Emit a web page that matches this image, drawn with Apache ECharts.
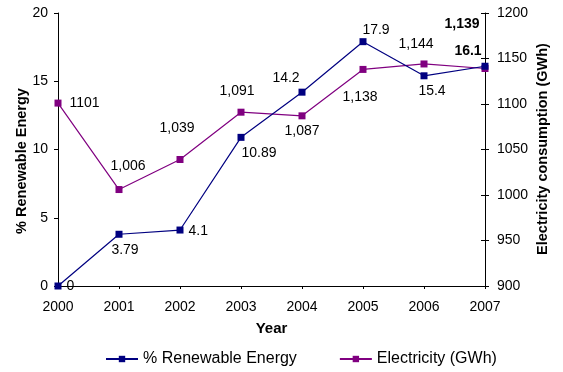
<!DOCTYPE html>
<html>
<head>
<meta charset="utf-8">
<script src="https://cdn.jsdelivr.net/npm/echarts@6/dist/echarts.min.js"></script>
<style>
  html, body { margin: 0; padding: 0; background: #fff; }
  #chart { width: 563px; height: 372px; }
</style>
</head>
<body>
<div id="chart"></div>
<script>
// Year categories and the two series
var years = ['2000', '2001', '2002', '2003', '2004', '2005', '2006', '2007'];
var renewable = [0, 3.79, 4.1, 10.89, 14.2, 17.9, 15.4, 16.1];
var electricity = [1101, 1006, 1039, 1091, 1087, 1138, 1144, 1139];

// Label placement per point: [position, dx, dy, bold]
var renewLabelPos = [
  ['right', 0, 0, false], ['bottom', 6, 0, false], ['right', 0, 1, false], ['bottom', 18, 0, false],
  ['top', -16, 1, false], ['top', 13, 4, false], ['bottom', 8, 0, false], ['top', -17, 0, true]
];
var elecLabelPos = [
  ['right', 3, 0, false], ['top', 9, -8, false], ['top', -3, -16, false], ['top', -4, -6, false],
  ['bottom', 0, 0, false], ['bottom', -3, 12, false], ['top', -8, -4, false], ['top', -23, -29, true]
];

function fmtElec(v, i) {
  // first value is printed without thousands separator
  return i === 0 ? String(v) : v.toLocaleString('en-US');
}

function buildData(values, pos, fmt) {
  return values.map(function (v, i) {
    var p = pos[i];
    return {
      value: v,
      label: {
        position: p[0],
        offset: [p[1], p[2]],
        fontWeight: p[3] ? 'bold' : 'normal',
        formatter: fmt ? fmt(v, i) : String(v)
      }
    };
  });
}

var FONT = 'Liberation Sans, Arial, sans-serif';
var chart = echarts.init(document.getElementById('chart'));

chart.setOption({
  animation: false,
  backgroundColor: '#fff',
  textStyle: { fontFamily: FONT },
  grid: { left: 58, right: 78, top: 13, bottom: 86, containLabel: false },
  legend: {
    top: 346,
    left: 100,
    itemGap: 42,
    itemWidth: 32,
    itemHeight: 8,
    textStyle: { fontSize: 16, color: '#000', fontFamily: FONT },
    data: ['% Renewable Energy', 'Electricity (GWh)']
  },
  graphic: [
    {
      type: 'text',
      x: 22, y: 161,
      rotation: Math.PI / 2,
      style: {
        text: '% Renewable Energy',
        fontFamily: FONT, fontSize: 14.5, fontWeight: 'bold', fill: '#000',
        align: 'center', verticalAlign: 'middle'
      }
    },
    {
      type: 'text',
      x: 543, y: 149,
      rotation: Math.PI / 2,
      style: {
        text: 'Electricity consumption (GWh)',
        fontFamily: FONT, fontSize: 14.5, fontWeight: 'bold', fill: '#000',
        align: 'center', verticalAlign: 'middle'
      }
    }
  ],
  xAxis: {
    type: 'category',
    data: years,
    boundaryGap: false,
    name: 'Year',
    nameLocation: 'middle',
    nameGap: 35,
    nameTextStyle: { fontWeight: 'bold', fontSize: 15, color: '#000' },
    axisLine: { lineStyle: { color: '#000', width: 1 } },
    axisTick: { show: true, alignWithLabel: true, length: 3, lineStyle: { color: '#000' } },
    axisLabel: { color: '#000', fontSize: 14, margin: 14 },
    splitLine: { show: false }
  },
  yAxis: [
    {
      type: 'value',
      min: 0, max: 20, interval: 5,
      axisLine: { show: true, lineStyle: { color: '#000' } },
      axisTick: { show: true, length: 4, lineStyle: { color: '#000' } },
      axisLabel: { color: '#000', fontSize: 14, margin: 10 },
      splitLine: { show: false }
    },
    {
      type: 'value',
      min: 900, max: 1200, interval: 50,
      position: 'right',
      axisLine: { show: true, lineStyle: { color: '#000' } },
      axisTick: { show: true, length: 4, lineStyle: { color: '#000' } },
      axisLabel: { color: '#000', fontSize: 14, margin: 12, formatter: function (v) { return String(v); } },
      splitLine: { show: false }
    },
    {
      // inner half of the crossing ticks on the right axis
      type: 'value',
      min: 900, max: 1200, interval: 50,
      position: 'right',
      axisLine: { show: false },
      axisTick: { show: true, inside: true, length: 4, lineStyle: { color: '#000' } },
      axisLabel: { show: false },
      splitLine: { show: false }
    }
  ],
  series: [
    {
      name: '% Renewable Energy',
      type: 'line',
      yAxisIndex: 0,
      symbol: 'rect',
      symbolSize: 7,
      color: '#000080',
      lineStyle: { color: '#000080', width: 1.2 },
      itemStyle: { color: '#000080' },
      label: { show: true, color: '#000', fontSize: 14, distance: 5 },
      data: buildData(renewable, renewLabelPos, null),
      z: 3
    },
    {
      name: 'Electricity (GWh)',
      type: 'line',
      yAxisIndex: 1,
      symbol: 'rect',
      symbolSize: 7,
      color: '#800080',
      lineStyle: { color: '#800080', width: 1.2 },
      itemStyle: { color: '#800080' },
      label: { show: true, color: '#000', fontSize: 14, distance: 5 },
      data: buildData(electricity, elecLabelPos, fmtElec),
      z: 2
    }
  ]
});
</script>
</body>
</html>
